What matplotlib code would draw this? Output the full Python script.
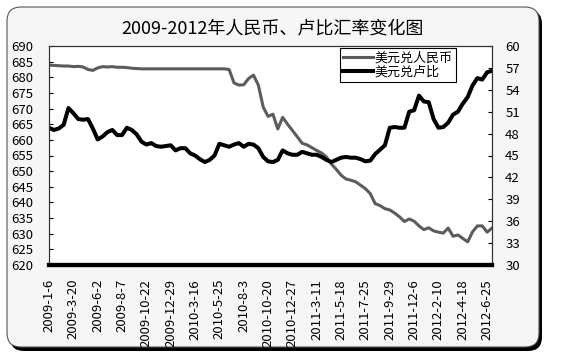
import matplotlib
matplotlib.use('Agg')
import matplotlib.pyplot as plt
from matplotlib.patches import FancyBboxPatch
import numpy as np

plt.rcParams['font.family'] = ['Noto Sans CJK SC', 'DejaVu Sans']

title = '2009-2012年人民币、卢比汇率变化图'

date_labels = ['2009-1-6', '2009-3-20', '2009-6-2', '2009-8-7', '2009-10-22',
               '2009-12-29', '2010-3-16', '2010-5-25', '2010-8-3', '2010-10-20',
               '2010-12-27', '2011-3-11', '2011-5-18', '2011-7-25', '2011-9-29',
               '2011-12-6', '2012-2-10', '2012-4-18', '2012-6-25']

# USD/CNY (x100), left axis
usd_cny = [683.9, 683.8, 683.7, 683.6, 683.6, 683.4, 683.5, 683.3, 682.5, 682.2,
           683.0, 683.4, 683.3, 683.4, 683.2, 683.2, 683.1, 682.9, 682.8, 682.7,
           682.7, 682.7, 682.7, 682.7, 682.7, 682.7, 682.7, 682.7, 682.7, 682.7,
           682.7, 682.7, 682.7, 682.7, 682.7, 682.7, 682.7, 682.5, 678.2, 677.5,
           677.6, 679.6, 680.7, 677.5, 670.5, 667.5, 668.2, 663.5, 667.2, 665.0,
           663.0, 661.0, 658.9, 658.4, 657.5, 656.6, 655.8, 654.5, 652.3, 650.6,
           648.7, 647.5, 647.1, 646.6, 645.5, 644.4, 642.8, 639.6, 639.0, 638.0,
           637.6, 636.6, 635.4, 633.9, 634.7, 634.0, 632.5, 631.3, 631.9, 630.9,
           630.5, 630.2, 631.8, 629.2, 629.6, 628.5, 627.4, 630.6, 632.5, 632.5,
           630.5, 631.8]

# USD/INR, right axis
usd_inr = [48.8, 48.5, 48.7, 49.2, 51.5, 50.8, 50.0, 49.9, 50.0, 48.7,
           47.2, 47.6, 48.2, 48.5, 47.8, 47.8, 48.8, 48.5, 47.9, 46.9,
           46.5, 46.7, 46.3, 46.2, 46.3, 46.4, 45.7, 46.0, 46.0, 45.3,
           45.0, 44.5, 44.1, 44.4, 45.0, 46.6, 46.4, 46.2, 46.5, 46.7,
           46.2, 46.6, 46.5, 46.0, 44.8, 44.2, 44.1, 44.4, 45.7, 45.3,
           45.1, 45.1, 45.5, 45.3, 45.1, 45.1, 44.8, 44.4, 44.1, 44.4,
           44.7, 44.8, 44.7, 44.7, 44.5, 44.2, 44.3, 45.2, 45.8, 46.4,
           48.8, 48.9, 48.8, 48.8, 51.0, 51.2, 53.2, 52.4, 52.3, 50.0,
           48.8, 48.9, 49.5, 50.6, 51.0, 52.1, 53.0, 54.6, 55.6, 55.4,
           56.4, 56.6]

left_ticks = np.arange(620, 691, 5)
right_ticks = np.arange(30, 61, 3)
label_step = 5

fig = plt.figure(figsize=(5.67, 3.59), dpi=100, facecolor='white')

# rounded chart frame with dark shadow
bg = fig.add_axes([0, 0, 1, 1], zorder=-1)
bg.set_xlim(0, 567)
bg.set_ylim(359, 0)
bg.axis('off')
bg.add_patch(FancyBboxPatch((10, 10), 532, 341, boxstyle='round,pad=0,rounding_size=14',
                            fc='black', ec='black', lw=0))
bg.add_patch(FancyBboxPatch((7, 7), 532, 340, boxstyle='round,pad=0,rounding_size=14',
                            fc='#f6f6f6', ec='#555555', lw=0.8))

ax = fig.add_axes([49 / 567, 1 - 265 / 359, 443 / 567, 219 / 359])
ax.set_facecolor('white')
x = np.arange(len(usd_cny))
l1, = ax.plot(x, usd_cny, color='#5c5c5c', lw=2.2, label='美元兑人民币')
ax.set_ylim(620, 690)
ax.set_yticks(left_ticks)
ax.set_xlim(0, len(usd_cny) - 1)
ax.set_xticks(x[::label_step])
ax.set_xticklabels(date_labels, rotation=90, fontsize=9.5)
ax.tick_params(axis='x', length=0, pad=10)
ax.tick_params(axis='y', direction='in', length=3, width=0.8, labelsize=9.5, pad=11.5)

ax2 = ax.twinx()
l2, = ax2.plot(x, usd_inr, color='black', lw=2.9, label='美元兑卢比')
ax2.set_ylim(30, 60)
ax2.set_yticks(right_ticks)
ax2.tick_params(axis='y', direction='in', length=3, width=0.8, labelsize=9.5, pad=9.5)

for a in (ax, ax2):
    for s in ('top', 'left', 'right'):
        a.spines[s].set_linewidth(0.8)
        a.spines[s].set_color('#333333')
    a.spines['bottom'].set_linewidth(3)
    a.spines['bottom'].set_color('black')

leg = ax2.legend(handles=[l1, l2], loc='upper left', bbox_to_anchor=(0.657, 0.991),
                 borderaxespad=0, fontsize=9.4, handlelength=2.3, handletextpad=0.1,
                 borderpad=0.25, labelspacing=0.1, fancybox=False, framealpha=1)
leg.get_frame().set_edgecolor('black')
leg.get_frame().set_linewidth(0.8)

fig.text(273 / 567, 1 - 29 / 359, title, ha='center', va='center', fontsize=13)

plt.savefig('out.png', dpi=100)
